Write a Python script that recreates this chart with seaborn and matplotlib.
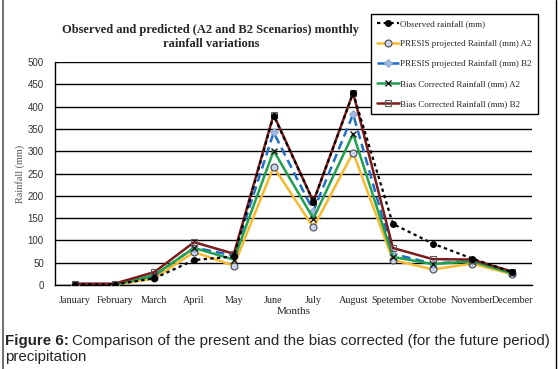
import numpy as np
import pandas as pd
import seaborn as sns
import matplotlib.pyplot as plt
from matplotlib.lines import Line2D

# data
months = ["January", "February", "March", "April", "May", "June", "July",
          "August", "Spetember", "Octobe", "November", "December"]
observed = [1, 1, 15, 56, 64, 380, 187, 430, 137, 93, 59, 29]
presis_a2 = [0, 0, 15, 74, 43, 265, 129, 297, 56, 35, 48, 24]
presis_b2 = [1, 1, 21, 84, 66, 342, 166, 383, 70, 48, 54, 27]
bias_a2 = [0, 0, 22, 83, 57, 301, 149, 339, 63, 47, 53, 26]
bias_b2 = [3, 3, 29, 96, 70, 382, 187, 431, 83, 58, 57, 30]

series = [
    ("Observed rainfall (mm)", observed),
    ("PRESIS projected Rainfall (mm) A2", presis_a2),
    ("PRESIS projected Rainfall (mm) B2", presis_b2),
    ("Bias Corrected Rainfall (mm) A2", bias_a2),
    ("Bias Corrected Rainfall (mm) B2", bias_b2),
]
styles = {
    "Observed rainfall (mm)": dict(color="black", ls=(0, (1.5, 1.5)), lw=1.6, marker="o",
                                   ms=4, mfc="black", mec="black", zorder=6),
    "PRESIS projected Rainfall (mm) A2": dict(color="#f7b92e", ls="-", lw=1.8, marker="o",
                                              ms=5, mfc="#c9d5ee", mec="#4a4a4a", mew=0.8, zorder=3),
    "PRESIS projected Rainfall (mm) B2": dict(color="#1f6fc8", ls=(0, (3.5, 2)), lw=1.8, marker="D",
                                              ms=4, mfc="#9fb9e6", mec="#8aa0c8", mew=0.6, zorder=4),
    "Bias Corrected Rainfall (mm) A2": dict(color="#1fa04c", ls="-", lw=1.8, marker="x",
                                            ms=5, mfc="none", mec="#1a1a1a", mew=1.0, zorder=4),
    "Bias Corrected Rainfall (mm) B2": dict(color="#7d1a1a", ls="-", lw=1.8, marker="s",
                                            ms=5, mfc="none", mec="#5a5a5a", mew=0.8, zorder=5),
}

sns.set_style("white")
plt.rcParams["font.family"] = ["Liberation Serif", "DejaVu Serif"]

fig = plt.figure(figsize=(5.58, 3.69), dpi=100)
ax = fig.add_axes([55 / 558, 1 - 285 / 369, (532 - 55) / 558, (285 - 62) / 369])

x = np.arange(len(months))
for name, vals in series:
    df = pd.DataFrame({"x": x, "y": vals})
    st = styles[name]
    sns.lineplot(data=df, x="x", y="y", ax=ax, sort=False, color=st["color"],
                 linestyle=st["ls"], linewidth=st["lw"], marker=st["marker"],
                 markersize=st["ms"], markerfacecolor=st["mfc"],
                 markeredgecolor=st["mec"], markeredgewidth=st.get("mew", 1),
                 zorder=st["zorder"], label=name)

ax.set_xlim(-0.5, 11.5)
ax.set_ylim(0, 500)
ax.set_yticks(np.arange(0, 501, 50))
ax.yaxis.grid(True, color="black", lw=1)
ax.set_axisbelow(True)
for s in ["top", "right"]:
    ax.spines[s].set_visible(False)
for s in ["left", "bottom"]:
    ax.spines[s].set_color("black")
    ax.spines[s].set_linewidth(1)

ax.set_xticks(x)
ax.set_xticklabels(months, fontsize=7.3)
ax.set_xticks(np.arange(-0.5, 12, 1), minor=True)
ax.tick_params(axis="x", which="major", length=0, pad=8)
ax.tick_params(axis="x", which="minor", length=5, width=1, color="black", direction="out")
ax.tick_params(axis="y", length=5, width=1, color="black", direction="out", pad=3)
for lab in ax.get_yticklabels():
    lab.set_family(["Liberation Sans", "DejaVu Sans"])
    lab.set_fontsize(7)
    lab.set_color("#333333")

ax.set_xlabel("Months", fontsize=8, labelpad=1)
ax.set_ylabel("Rainfall (mm)", fontsize=7.3, color="#555555", labelpad=2)

fig.text(0.378, 1 - 37 / 369, "Observed and predicted (A2 and B2 Scenarios) monthly\nrainfall variations",
         ha="center", va="center", fontsize=9, fontweight="bold", linespacing=1.15)

leg = ax.legend(loc="upper left", bbox_to_anchor=(371 / 558, 1 - 14 / 369),
                bbox_transform=fig.transFigure, fontsize=6.5, frameon=True,
                handlelength=2.4, handletextpad=0.2, labelspacing=1.3,
                borderpad=0.65, borderaxespad=0, fancybox=False, framealpha=1)
leg.get_frame().set_edgecolor("black")
leg.get_frame().set_linewidth(1)

# outer frame lines
fig.add_artist(Line2D([2.5 / 558, 2.5 / 558], [0, 1], color="#555555", lw=1.2))
fig.add_artist(Line2D([556 / 558, 556 / 558], [0, 1], color="black", lw=1))

# caption
cap = fig.text(5 / 558, 1 - 341 / 369, "Figure 6:", family=["Liberation Sans", "DejaVu Sans"],
               fontsize=10.9, fontweight="bold", va="center")
fig.canvas.draw()
bb = cap.get_window_extent(fig.canvas.get_renderer())
fig.text(bb.x1 / fig.bbox.width + 0.005, 1 - 341 / 369,
         "Comparison of the present and the bias corrected (for the future period)",
         family=["Liberation Sans", "DejaVu Sans"], fontsize=10.9, va="center")
fig.text(5 / 558, 1 - 357 / 369, "precipitation", family=["Liberation Sans", "DejaVu Sans"],
         fontsize=10.9, va="center")

plt.savefig("out.png", dpi=100)
plt.close(fig)
